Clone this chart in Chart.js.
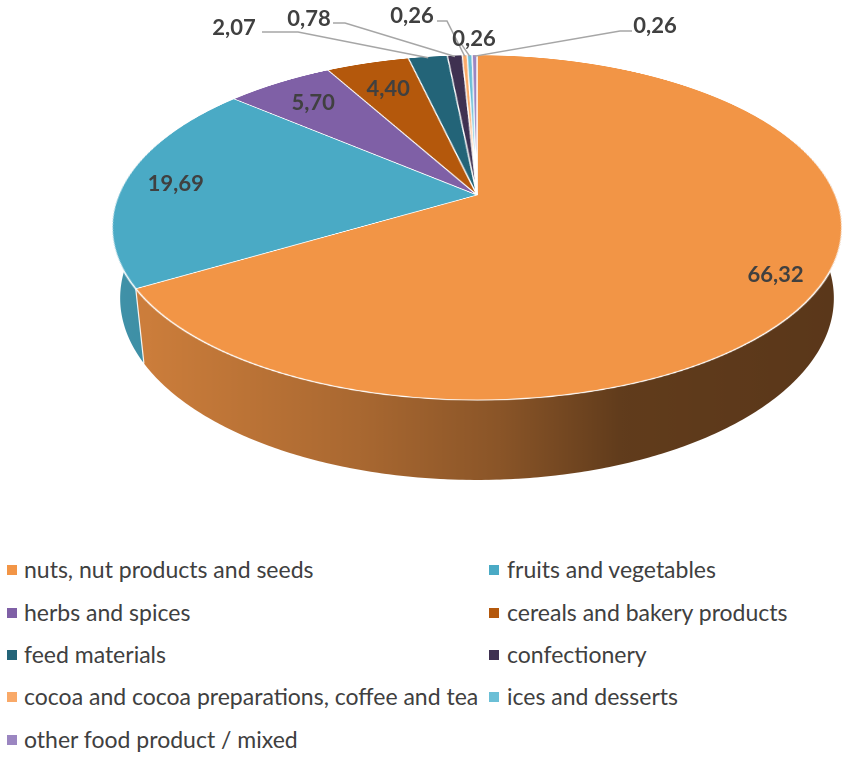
<!DOCTYPE html>
<html><head><meta charset="utf-8">
<script src="https://cdn.jsdelivr.net/npm/chart.js@4.4.1/dist/chart.umd.min.js"></script>
<style>
html,body{margin:0;padding:0;background:#fff;}
#wrap{position:relative;width:851px;height:758px;overflow:hidden;background:#fff;font-family:Lato,'Open Sans',sans-serif;}
#wall,#over{position:absolute;left:0;top:0;}
#pieBox{position:absolute;width:740px;height:740px;transform-origin:50% 50%;}
#pie{display:block;width:740px;height:740px;}
.lg{position:absolute;height:30px;line-height:30px;font-size:23px;color:#404040;white-space:nowrap;}
.lg i{position:absolute;left:0;width:10px;height:10px;}
.lg span{position:absolute;top:0;}
</style></head><body>
<div id="wrap">
<canvas id="wall"></canvas>
<div id="pieBox"><canvas id="pie" width="740" height="740"></canvas></div>
<canvas id="over"></canvas>
<div id="legend"></div>
</div>
<script>
// ---------- data ----------
const categories = [
  'nuts, nut products and seeds',
  'fruits and vegetables',
  'herbs and spices',
  'cereals and bakery products',
  'feed materials',
  'confectionery',
  'cocoa and cocoa preparations, coffee and tea',
  'ices and desserts',
  'other food product / mixed'
];
const shares = [66.32, 19.69, 5.70, 4.40, 2.07, 0.78, 0.26, 0.26, 0.26];
const sliceColors = ['#F29546', '#4AAAC5', '#7F60A6', '#B4580C', '#236478', '#3F3151', '#F9A968', '#6BBFD6', '#9B86C1'];

// ---------- layout ----------
const D2R = Math.PI / 180;
const PIE_CX = 477, PIE_CY = 195, BOX = 740;
const RADIUS = 358.5, TILT = 62.35, PERSP = 1686, DEPTH = 80.4;
const cosT = Math.cos(TILT * D2R), sinT = Math.sin(TILT * D2R);
const W = 851, H = 540;

const box = document.getElementById('pieBox');
box.style.left = (PIE_CX - BOX / 2) + 'px';
box.style.top = (PIE_CY - BOX / 2) + 'px';
box.style.transform = 'perspective(' + PERSP + 'px) rotateX(' + TILT + 'deg)';

function setupCanvas(c, w, h) {
  const r = 2;
  c.width = w * r; c.height = h * r;
  c.style.width = w + 'px'; c.style.height = h + 'px';
  const ctx = c.getContext('2d');
  ctx.scale(r, r);
  return ctx;
}
const wctx = setupCanvas(document.getElementById('wall'), W, H);
const octx = setupCanvas(document.getElementById('over'), W, H);

// project a point of the pie plane (u,v relative to centre) lowered by d
function proj(u, v, d) {
  const y = v * cosT + d * sinT;
  const z = v * sinT - d * cosT;
  const s = PERSP / (PERSP - z);
  return [PIE_CX + u * s, PIE_CY + y * s];
}
function hexRgb(h) {
  const n = parseInt(h.slice(1), 16);
  return [(n >> 16) & 255, (n >> 8) & 255, n & 255];
}
const shadeStops = [[110, 0.86], [150, 0.84], [360, 0.70], [500, 0.57], [620, 0.40], [850, 0.37]];
function wallGradient(hex) {
  const [r, g, b] = hexRgb(hex);
  const g0 = wctx.createLinearGradient(110, 0, 850, 0);
  shadeStops.forEach(([x, f]) => {
    g0.addColorStop((x - 110) / 740, 'rgb(' + Math.round(r * f) + ',' + Math.round(g * f) + ',' + Math.round(b * f) + ')');
  });
  return g0;
}
function fmt(v) { return v.toFixed(2).replace('.', ','); }

const innerLabelFrac = {0: 0.88, 1: 0.855, 2: 0.807, 3: 0.785};
const calloutLayout = {
  4: {tx: 234, ty: 27, path: [[262, 32], [298, 32]]},
  5: {tx: 309, ty: 18, path: [[333, 23], [345, 23]]},
  6: {tx: 412, ty: 15, path: [[437, 21], [447, 21]]},
  7: {tx: 474, ty: 38, path: [[462, 45]]},
  8: {tx: 655, ty: 25, path: [[632, 31], [620, 31]]}
};

const pie3d = {
  id: 'pie3d',
  afterDraw(chart) {
    const meta = chart.getDatasetMeta(0);
    const arcs = meta.data;
    const values = chart.data.datasets[0].data;
    wctx.clearRect(0, 0, W, H);
    octx.clearRect(0, 0, W, H);
    const lo = -20 * D2R, hi = 200 * D2R;
    const parts = [];
    arcs.forEach((arc, i) => {
      const a1 = Math.max(arc.startAngle, lo), a2 = Math.min(arc.endAngle, hi);
      if (a2 <= a1) return;
      parts.push({i, a1, a2, R: arc.outerRadius, key: Math.sin((a1 + a2) / 2)});
    });
    parts.sort((a, b) => a.key - b.key);
    parts.forEach(pt => {
      const steps = Math.max(2, Math.ceil((pt.a2 - pt.a1) / (0.5 * D2R)));
      wctx.beginPath();
      for (let k = 0; k <= steps; k++) {
        const a = pt.a1 + (pt.a2 - pt.a1) * k / steps;
        const [x, y] = proj(pt.R * Math.cos(a), pt.R * Math.sin(a), 0);
        if (k === 0) wctx.moveTo(x, y); else wctx.lineTo(x, y);
      }
      for (let k = steps; k >= 0; k--) {
        const a = pt.a1 + (pt.a2 - pt.a1) * k / steps;
        const [x, y] = proj(pt.R * Math.cos(a), pt.R * Math.sin(a), DEPTH);
        wctx.lineTo(x, y);
      }
      wctx.closePath();
      wctx.fillStyle = wallGradient(sliceColors[pt.i]);
      wctx.fill();
    });
    // seams on the wall
    arcs.forEach(arc => {
      const a = arc.startAngle;
      if (Math.sin(a) > 0.25) {
        const R = arc.outerRadius;
        const p0 = proj(R * Math.cos(a), R * Math.sin(a), 0);
        const p1 = proj(R * Math.cos(a), R * Math.sin(a), DEPTH);
        wctx.beginPath(); wctx.moveTo(p0[0], p0[1]); wctx.lineTo(p1[0], p1[1]);
        wctx.strokeStyle = 'rgba(255,255,255,0.9)'; wctx.lineWidth = 1.2; wctx.stroke();
      }
    });
    // labels
    octx.font = 'bold 22px Lato, "Open Sans", sans-serif';
    octx.textAlign = 'center';
    octx.textBaseline = 'alphabetic';
    arcs.forEach((arc, i) => {
      const mid = (arc.startAngle + arc.endAngle) / 2;
      const R = arc.outerRadius;
      const txt = fmt(values[i]);
      if (innerLabelFrac[i] !== undefined) {
        const f = innerLabelFrac[i];
        const [x, y] = proj(f * R * Math.cos(mid), f * R * Math.sin(mid), 0);
        octx.fillStyle = '#404040';
        octx.fillText(txt, x, y + 8);
      } else if (calloutLayout[i]) {
        const L = calloutLayout[i];
        const anchor = proj(0.99 * R * Math.cos(mid), 0.99 * R * Math.sin(mid), 0);
        octx.beginPath();
        octx.moveTo(L.path[0][0], L.path[0][1]);
        for (let k = 1; k < L.path.length; k++) octx.lineTo(L.path[k][0], L.path[k][1]);
        octx.lineTo(anchor[0], anchor[1]);
        octx.strokeStyle = '#A6A6A6'; octx.lineWidth = 1.5; octx.stroke();
        octx.fillStyle = '#404040';
        octx.fillText(txt, L.tx, L.ty + 8);
      }
    });
  }
};

new Chart(document.getElementById('pie'), {
  type: 'pie',
  data: {
    labels: categories,
    datasets: [{
      data: shares,
      backgroundColor: sliceColors,
      borderColor: '#FFFFFF',
      borderWidth: 1.5
    }]
  },
  options: {
    responsive: false,
    maintainAspectRatio: false,
    devicePixelRatio: 2,
    animation: false,
    events: [],
    radius: RADIUS,
    layout: {padding: 0},
    plugins: {legend: {display: false}, tooltip: {enabled: false}}
  },
  plugins: [pie3d]
});

// ---------- legend ----------
const legendRows = [570, 613, 655, 697, 740];
const legendCols = [{mx: 7, tx: 24}, {mx: 489, tx: 507}];
const lg = document.getElementById('legend');
categories.forEach((name, i) => {
  const r = Math.floor(i / 2), c = i % 2;
  const d = document.createElement('div');
  d.className = 'lg';
  d.style.left = legendCols[c].mx + 'px';
  d.style.top = (legendRows[r] - 16) + 'px';
  const m = document.createElement('i');
  m.style.background = sliceColors[i];
  m.style.top = '11px';
  const s = document.createElement('span');
  s.style.left = (legendCols[c].tx - legendCols[c].mx) + 'px';
  s.textContent = name;
  d.appendChild(m); d.appendChild(s);
  lg.appendChild(d);
});
</script>
</body></html>
